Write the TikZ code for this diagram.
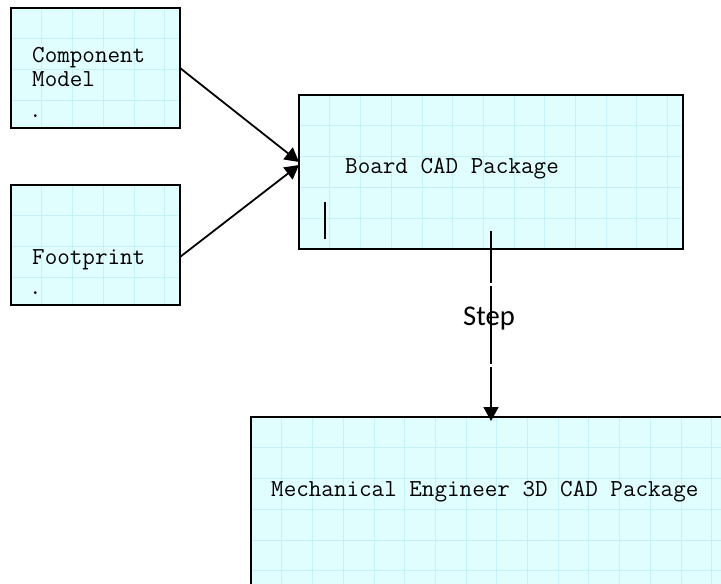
\documentclass[tikz,border=0pt]{standalone}
\usepackage{fontspec}
\newfontfamily\labelfont{Carlito}
\usetikzlibrary{arrows.meta}
\definecolor{boxfill}{HTML}{E1FEFF}
\definecolor{gridcol}{HTML}{C4F2F6}
\tikzset{
  box/.style={rectangle, fill=boxfill, anchor=north west, inner sep=0pt, outer sep=0pt},
  boxborder/.style={draw=black, line width=1.8pt},
  gridline/.style={gridcol, line width=0.6pt},
  boxtext/.style={font=\ttfamily\fontsize{24.4}{25}\selectfont, inner sep=0pt,
    anchor=base west, align=left},
  flow/.style={line width=1.8pt, -{Triangle[length=14pt,width=15pt]}},
}
\begin{document}
\begin{tikzpicture}[x=1pt, y=-1pt]
  \useasboundingbox (0,0) rectangle (721,584);

  % boxes
  \node[box, minimum width=169pt, minimum height=120pt] (cm) at (11,8) {};
  \node[box, minimum width=169pt, minimum height=120pt] (fp) at (11,185) {};
  \node[box, minimum width=384pt, minimum height=154pt] (bc) at (299,95) {};
  \node[box, minimum width=480pt, minimum height=220pt] (me) at (251,417) {};

  % light grid inside every box from its top left corner, then the frame
  \foreach \b in {cm,fp,bc,me} {
    \begin{scope}
      \clip (\b.north west) rectangle (\b.south east);
      \begin{scope}[shift={(\b.north west)}]
        \draw[gridline, step=30.7pt] (0pt,0pt) grid (800pt,-700pt);
      \end{scope}
    \end{scope}
    \draw[boxborder] (\b.north west) rectangle (\b.south east);
  }

  % box texts
  \node[boxtext] (cmt1) at (32,62) {Component};
  \node[boxtext] (cmt2) at (32,86) {Model};
  \node[boxtext] (cmt3) at (29,117) {.};
  \node[boxtext] (fpt1) at (32,264) {Footprint};
  \node[boxtext] (fpt2) at (29,294) {.};
  \node[boxtext] (bct) at (345,173) {Board CAD Package};
  \node[boxtext] (met) at (271,496) {Mechanical Engineer 3D CAD Package};

  % text cursor inside the board box
  \draw[line width=2pt] (325,202) -- (325,239);

  % connectors
  \draw[flow] (cm.east) -- ([yshift=10pt]bc.west);
  \draw[flow] ([yshift=-12pt]fp.east) -- ([yshift=7pt]bc.west);
  \draw[flow, dash pattern=on 52pt off 3pt on 78pt off 3pt on 300pt]
    ([yshift=18pt]bc.south) -- ([yshift=-4pt]me.north);

  % connector label
  \node[font=\labelfont\fontsize{28.6}{30}\selectfont, inner sep=0pt, anchor=base west]
    (step) at (463,325) {Step};
\end{tikzpicture}
\end{document}
